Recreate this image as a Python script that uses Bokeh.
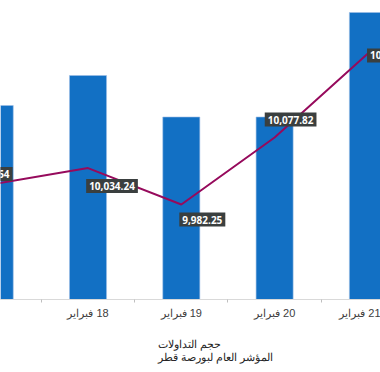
from bokeh.plotting import figure
from bokeh.layouts import column
from bokeh.models import Range1d, FixedTicker, ColumnDataSource, Legend, LegendItem
from bokeh.core.properties import value
from bokeh.embed import file_html
from bokeh.resources import INLINE

# ---- data ----
days = ["17 فبراير", "18 فبراير", "19 فبراير", "20 فبراير", "21 فبراير"]
volume = [388, 448, 365, 365, 574]
index_vals = [10011.54, 10034.24, 9982.25, 10077.82, 10197.63]
series_names = ["حجم التداولات", "المؤشر العام لبورصة قطر"]

# ---- label placement (screen px, y down) ----
label_dx = [-8, 24, 21, 16, 25]
label_dy = [-10, 18, 15, -18, 2]

xs = list(range(len(days)))
labels = [f"{v:,.2f}" for v in index_vals]

BAR = "#1270c4"
BAR_EDGE = "#9dbde6"
LINE = "#960a5c"

p = figure(frame_width=380, frame_height=299,
           x_range=Range1d(0.062, 4.135), y_range=Range1d(0, 598),
           output_backend="svg", toolbar_location=None,
           y_axis_location=None, min_border_left=0, min_border_right=0,
           min_border_top=0, min_border_bottom=24)
p.extra_y_ranges = {"idx": Range1d(9846.8, 10273.2)}
p.outline_line_color = None
p.xgrid.visible = False
p.ygrid.visible = False

p.vbar(x=xs, top=volume, width=0.397, bottom=0,
       fill_color=BAR, line_color=BAR_EDGE, line_width=0.6)
p.line(xs, index_vals, y_range_name="idx", line_color=LINE, line_width=2)

src = ColumnDataSource(dict(x=xs, y=index_vals, t=labels, dx=label_dx, dy=label_dy))
p.text(x="x", y="y", text="t", y_range_name="idx", source=src,
       x_offset="dx", y_offset="dy",
       text_align="center", text_baseline="middle",
       text_color="white", text_font=value("Open Sans"), text_font_style="bold",
       text_font_size="10px",
       background_fill_color="#3a3f3f", padding=3)

ax = p.xaxis[0]
ax.ticker = FixedTicker(ticks=xs, minor_ticks=[i + 0.5 for i in xs[:-1]])
ax.major_label_overrides = {i: "\u200f" + d for i, d in zip(xs, days)}
ax.major_tick_out = 0
ax.major_tick_in = 0
ax.minor_tick_out = 3
ax.minor_tick_in = 0
ax.axis_line_color = "#d9d9d9"
ax.minor_tick_line_color = "#bfbfbf"
ax.major_label_text_font = "Liberation Sans"
ax.major_label_text_font_size = "11px"
ax.major_label_text_color = "#404040"
ax.major_label_standoff = 4

# ---- legend strip below the chart ----
p2 = figure(width=380, height=49, x_range=Range1d(0, 1), y_range=Range1d(0, 1),
            output_backend="svg", toolbar_location=None,
            x_axis_location=None, y_axis_location=None, min_border=0)
p2.outline_line_color = None
p2.xgrid.visible = False
p2.ygrid.visible = False
lb = p2.vbar(x=[], top=[], width=0.4, fill_color=BAR, line_color=BAR_EDGE, line_width=0.6)
ll = p2.line(x=[], y=[], line_color=LINE, line_width=2)

legend = Legend(items=[LegendItem(label=value(series_names[0]), renderers=[lb]),
                       LegendItem(label=value(series_names[1]), renderers=[ll])],
                location=(141, 8), orientation="vertical",
                glyph_width=16, glyph_height=8, label_height=12,
                label_standoff=1, spacing=0, padding=0, margin=0,
                label_text_font="Liberation Sans", label_text_font_size="11px",
                label_text_color="#262626",
                border_line_color=None, background_fill_alpha=0)
p2.add_layout(legend, "center")

layout = column(p, p2, spacing=0)
open("out.html", "w").write(file_html(layout, INLINE))
